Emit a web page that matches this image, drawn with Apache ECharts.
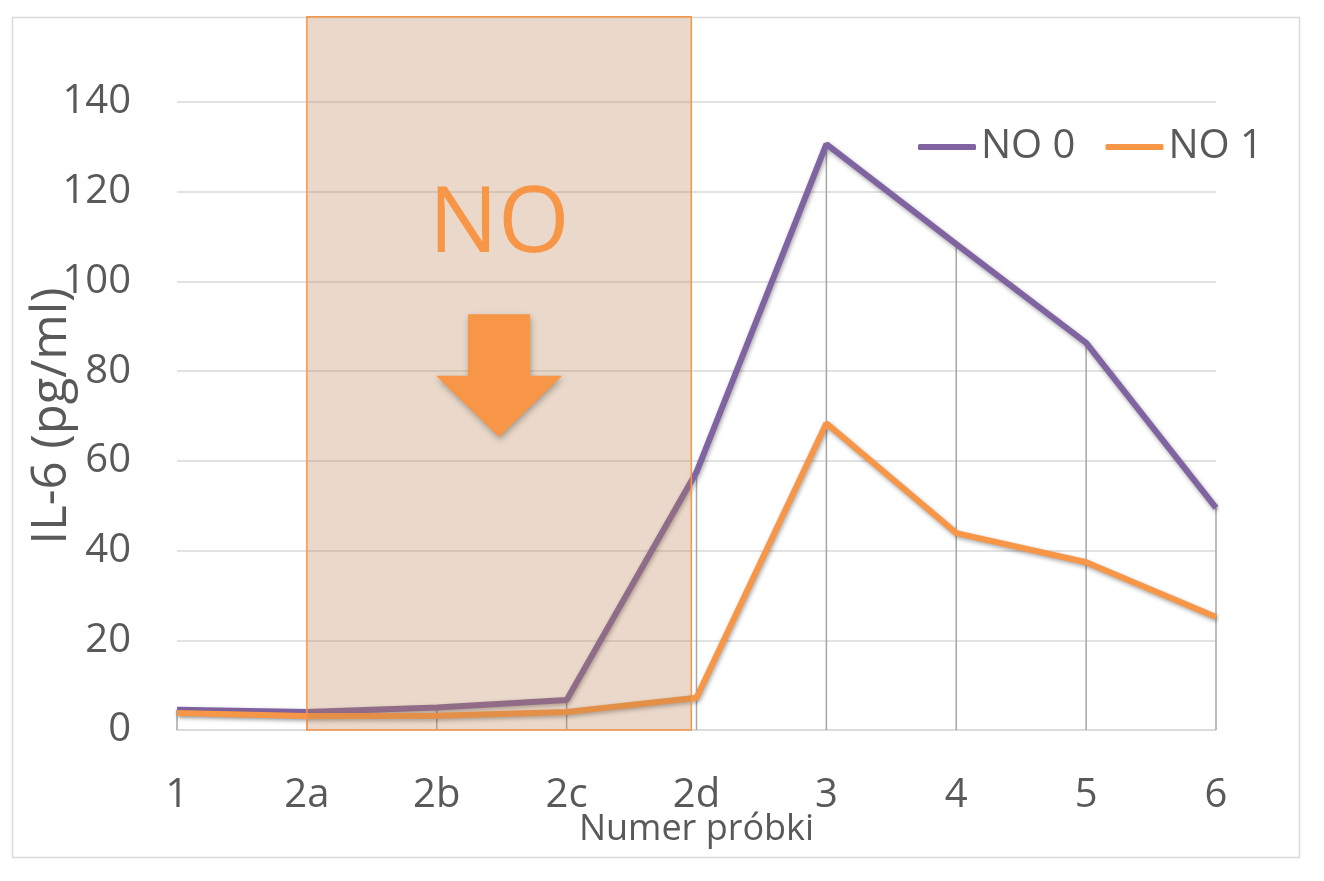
<!DOCTYPE html>
<html>
<head>
<meta charset="utf-8">
<title>IL-6</title>
<script src="https://cdn.jsdelivr.net/npm/echarts@6/dist/echarts.min.js"></script>
<style>
  html, body { margin: 0; padding: 0; background: #ffffff; }
  #chart { width: 1324px; height: 881px; }
</style>
</head>
<body>
<div id="chart"></div>
<script>
// Sample numbers along the x axis
const categories = ['1', '2a', '2b', '2c', '2d', '3', '4', '5', '6'];
// IL-6 concentration (pg/ml) per series
const seriesNames = ['NO 0', 'NO 1'];
const no0 = [4.5, 4.0, 5.0, 6.7, 57.5, 130.6, 108.3, 86.3, 49.5];
const no1 = [3.8, 3.1, 3.2, 4.0, 7.2, 68.4, 43.9, 37.4, 25.2];
// Value axis
const yMin = 0, yMax = 140, yStep = 20;
// Shaded "NO" window: from sample 2a up to just before 2d
const windowStart = 1, windowEnd = 3.96, windowTop = 159;
const windowLabel = 'NO';

const FONT = '"Open Sans", "Noto Sans", sans-serif';
const TEXT = '#595959';
const PURPLE = '#8064a2';
const ORANGE = '#f79646';

const chart = echarts.init(document.getElementById('chart'), null, { renderer: 'canvas' });

const lineShadow = {
  shadowColor: 'rgba(0,0,0,0.35)',
  shadowBlur: 4,
  shadowOffsetX: 1,
  shadowOffsetY: 2
};

// Vertical drop lines from the highest point of each sample down to zero
const dropData = categories.map((c, i) => [i, Math.max(no0[i], no1[i])]);

function renderDrop(params, api) {
  const top = api.coord([api.value(0), api.value(1)]);
  const base = api.coord([api.value(0), 0]);
  return {
    type: 'line',
    shape: { x1: top[0], y1: top[1], x2: base[0], y2: base[1] },
    style: { stroke: '#a6a6a6', lineWidth: 1.5 }
  };
}

// Shaded window with the "NO" caption and a down arrow
function renderWindow(params, api) {
  const a = api.coord([windowStart, 0]);
  const p3 = api.coord([Math.floor(windowEnd), 0]);
  const p4 = api.coord([Math.ceil(windowEnd), 0]);
  const frac = windowEnd - Math.floor(windowEnd);
  const xr = p3[0] + frac * (p4[0] - p3[0]);
  const yb = a[1];
  const yt = api.coord([windowStart, windowTop])[1];
  const cx = (a[0] + xr) / 2;
  const yText = api.coord([windowStart, 112.5])[1];
  const yShaftTop = api.coord([windowStart, 92.7])[1];
  const yHead = api.coord([windowStart, 79])[1];
  const yTip = api.coord([windowStart, 65.3])[1];
  const shaftHalf = 31, headHalf = 63;
  return {
    type: 'group',
    children: [
      {
        type: 'rect',
        shape: { x: a[0], y: yt, width: xr - a[0], height: yb - yt },
        style: {
          fill: 'rgba(185,128,78,0.30)',
          stroke: ORANGE,
          lineWidth: 1.5
        }
      },
      {
        type: 'text',
        style: {
          x: cx, y: yText,
          text: windowLabel,
          fill: ORANGE,
          font: '400 92px ' + FONT,
          align: 'center',
          verticalAlign: 'middle',
          shadowColor: 'rgba(0,0,0,0.25)',
          shadowBlur: 4,
          shadowOffsetX: 1,
          shadowOffsetY: 2
        }
      },
      {
        type: 'polygon',
        shape: {
          points: [
            [cx - shaftHalf, yShaftTop], [cx + shaftHalf, yShaftTop],
            [cx + shaftHalf, yHead], [cx + headHalf, yHead],
            [cx, yTip],
            [cx - headHalf, yHead], [cx - shaftHalf, yHead]
          ]
        },
        style: {
          fill: ORANGE,
          shadowColor: 'rgba(0,0,0,0.3)',
          shadowBlur: 6,
          shadowOffsetX: 1,
          shadowOffsetY: 3
        }
      }
    ]
  };
}

const option = {
  backgroundColor: '#ffffff',
  animation: false,
  textStyle: { fontFamily: FONT, color: TEXT },
  graphic: [
    {
      type: 'rect',
      left: 10, top: 15,
      shape: { width: 1287, height: 840 },
      style: { fill: 'none', stroke: '#d9d9d9', lineWidth: 1.5 },
      z: -1
    }
  ],
  grid: {
    left: 177, right: 108, top: 102, bottom: 151,
    containLabel: false,
    outerBoundsMode: 'none'
  },
  legend: {
    data: seriesNames,
    left: 913,
    top: 122,
    icon: 'roundRect',
    itemWidth: 58,
    itemHeight: 6,
    itemGap: 30,
    textStyle: { fontFamily: FONT, fontSize: 40, color: TEXT }
  },
  xAxis: {
    type: 'category',
    data: categories,
    boundaryGap: false,
    name: 'Numer próbki',
    nameLocation: 'middle',
    nameGap: 82,
    nameMoveOverlap: false,
    nameTextStyle: { fontFamily: FONT, fontSize: 36, color: TEXT },
    axisLine: { lineStyle: { color: '#d9d9d9', width: 1.5 } },
    axisTick: { show: false },
    axisLabel: { fontFamily: FONT, fontSize: 40, color: TEXT, margin: 46 },
    splitLine: { show: false }
  },
  yAxis: {
    type: 'value',
    min: yMin, max: yMax, interval: yStep,
    name: 'IL-6 (pg/ml)',
    nameLocation: 'middle',
    nameGap: 100,
    nameMoveOverlap: false,
    nameTextStyle: { fontFamily: FONT, fontSize: 49, color: TEXT },
    axisLine: { show: false },
    axisTick: { show: false },
    axisLabel: { fontFamily: FONT, fontSize: 40, color: TEXT, margin: 46 },
    splitLine: { lineStyle: { color: '#d9d9d9', width: 1.5 } }
  },
  series: [
    {
      type: 'custom',
      name: 'drop',
      data: dropData,
      renderItem: renderDrop,
      encode: { x: 0, y: 1 },
      silent: true,
      z: 1
    },
    {
      type: 'line',
      name: seriesNames[0],
      data: no0,
      symbol: 'none',
      lineStyle: Object.assign({ color: PURPLE, width: 6 }, lineShadow),
      itemStyle: { color: PURPLE },
      z: 3
    },
    {
      type: 'line',
      name: seriesNames[1],
      data: no1,
      symbol: 'none',
      lineStyle: Object.assign({ color: ORANGE, width: 6 }, lineShadow),
      itemStyle: { color: ORANGE },
      z: 4
    },
    {
      type: 'custom',
      name: 'window',
      data: [[windowStart, 0]],
      renderItem: renderWindow,
      encode: { x: 0, y: 1 },
      clip: false,
      silent: true,
      z: 10
    }
  ]
};

chart.setOption(option);
</script>
</body>
</html>
